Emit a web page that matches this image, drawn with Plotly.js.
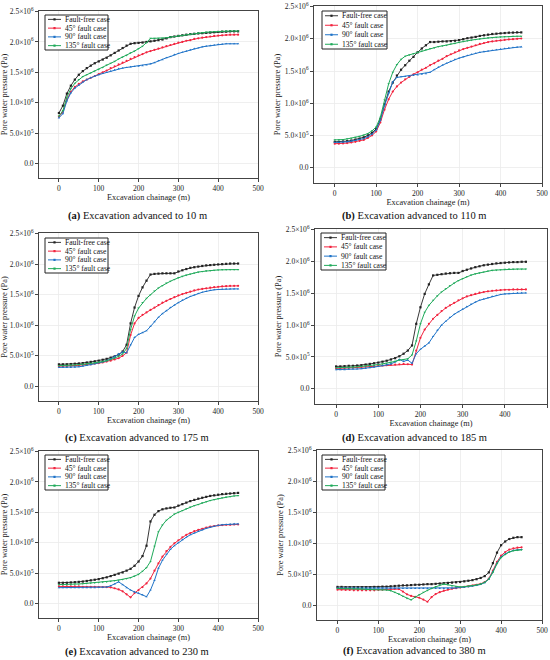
<!DOCTYPE html>
<html><head><meta charset="utf-8">
<script src="https://cdn.plot.ly/plotly-3.0.1.min.js"></script>
<style>body{margin:0;background:#fff}#chart{width:550px;height:660px}</style>
</head><body><div id="chart"></div>
<script>
// chainage (m)
const chainage = [0,10,20,30,40,50,60,70,80,90,100,110,120,130,140,150,160,170,180,190,200,210,220,230,240,250,260,270,280,290,300,310,320,330,340,350,360,370,380,390,400,410,420,430,440,450];
const seriesNames = ["Fault-free case","45° fault case","90° fault case","135° fault case"];
const captions = ["(a)","(b)","(c)","(d)","(e)","(f)"];
const captionTexts = ["Excavation advanced to 10 m","Excavation advanced to 110 m","Excavation advanced to 175 m","Excavation advanced to 185 m","Excavation advanced to 230 m","Excavation advanced to 380 m"];
// pore water pressure in units of 10^5 Pa
const a_free=[8.3,9.5,11.5,12.8,13.8,14.6,15.2,15.7,16.1,16.5,16.8,17.1,17.4,17.8,18.2,18.6,19.0,19.4,19.7,19.8,19.85,19.9,20.0,20.1,20.2,20.3,20.4,20.6,20.8,20.9,21.0,21.1,21.2,21.3,21.35,21.4,21.45,21.5,21.55,21.6,21.65,21.7,21.7,21.75,21.75,21.75];
const a_45=[7.7,8.5,10.5,11.8,12.6,13.1,13.5,13.8,14.1,14.4,14.7,15.0,15.3,15.7,16.0,16.3,16.6,16.9,17.2,17.5,17.8,18.0,18.3,18.5,18.7,18.9,19.1,19.3,19.5,19.7,19.9,20.0,20.2,20.3,20.5,20.6,20.7,20.8,20.9,21.0,21.05,21.1,21.15,21.2,21.2,21.2];
const a_90=[7.5,8.2,10.3,11.6,12.4,12.9,13.4,13.8,14.1,14.4,14.6,14.8,15.0,15.2,15.4,15.6,15.7,15.8,15.9,15.95,16.0,16.1,16.2,16.4,16.6,16.9,17.1,17.4,17.6,17.9,18.1,18.3,18.5,18.7,18.9,19.0,19.2,19.3,19.4,19.5,19.6,19.65,19.7,19.7,19.7,19.7];
const a_135=[7.8,8.7,10.9,12.3,13.2,13.8,14.3,14.6,14.9,15.2,15.5,15.8,16.2,16.5,16.8,17.2,17.5,17.8,18.2,18.5,18.9,19.3,19.9,20.6,20.6,20.6,20.6,20.7,20.8,20.9,21.0,21.1,21.2,21.3,21.4,21.5,21.55,21.6,21.65,21.7,21.7,21.75,21.8,21.8,21.8,21.8];
const b_free=[4.0,4.0,4.05,4.1,4.2,4.35,4.5,4.7,5.0,5.4,6.0,7.5,9.8,11.8,13.2,14.3,15.2,15.9,16.6,17.2,17.9,18.5,19.0,19.5,19.5,19.55,19.6,19.6,19.65,19.7,19.8,19.95,20.1,20.2,20.3,20.45,20.55,20.65,20.75,20.8,20.85,20.9,20.95,20.97,21.0,21.0];
const b_45=[3.7,3.7,3.75,3.8,3.9,4.0,4.15,4.3,4.6,5.0,5.6,7.0,9.0,10.6,11.8,12.6,13.2,13.7,14.1,14.5,14.8,15.2,15.5,15.9,16.2,16.6,16.9,17.3,17.6,17.9,18.2,18.4,18.6,18.8,19.0,19.2,19.35,19.5,19.6,19.7,19.75,19.85,19.9,19.95,20.0,20.05];
const b_90=[3.9,3.9,3.95,4.0,4.1,4.2,4.35,4.5,4.8,5.2,5.8,7.3,9.6,11.6,13.3,14.0,14.1,14.15,14.2,14.3,14.4,14.5,14.6,14.8,15.2,15.6,15.9,16.2,16.5,16.8,17.0,17.2,17.4,17.6,17.75,17.9,18.0,18.1,18.2,18.3,18.4,18.5,18.6,18.65,18.7,18.75];
const b_135=[4.3,4.3,4.35,4.45,4.55,4.7,4.85,5.05,5.3,5.7,6.3,7.8,10.5,13.0,14.8,16.0,16.8,17.3,17.5,17.7,17.9,18.1,18.3,18.5,18.6,18.8,18.9,19.0,19.2,19.3,19.45,19.6,19.7,19.8,19.9,20.0,20.1,20.15,20.2,20.25,20.3,20.35,20.35,20.4,20.4,20.4];
const c_free=[3.6,3.6,3.6,3.65,3.7,3.75,3.8,3.9,4.0,4.1,4.2,4.35,4.5,4.7,4.9,5.2,5.7,6.8,10.3,12.9,14.8,16.2,17.3,18.3,18.4,18.45,18.5,18.5,18.5,18.5,18.8,19.0,19.2,19.4,19.5,19.6,19.7,19.8,19.85,19.9,19.95,20.0,20.05,20.1,20.1,20.1];
const c_45=[3.3,3.3,3.3,3.35,3.4,3.45,3.5,3.55,3.6,3.7,3.8,3.9,4.05,4.2,4.4,4.6,5.0,5.5,8.4,10.3,11.2,11.7,12.1,12.5,12.9,13.3,13.7,14.0,14.3,14.6,14.9,15.1,15.3,15.5,15.7,15.85,15.95,16.05,16.15,16.25,16.3,16.35,16.4,16.45,16.45,16.45];
const c_90=[3.1,3.1,3.1,3.1,3.15,3.2,3.3,3.4,3.55,3.7,3.85,4.0,4.2,4.5,4.9,5.3,5.6,5.5,6.8,8.0,8.5,8.8,9.1,9.8,10.6,11.3,11.9,12.4,12.9,13.3,13.7,14.1,14.4,14.7,14.95,15.2,15.4,15.55,15.7,15.8,15.85,15.9,15.95,15.95,15.95,15.95];
const c_135=[3.4,3.4,3.4,3.45,3.5,3.55,3.6,3.65,3.75,3.85,3.95,4.05,4.2,4.4,4.6,4.9,5.3,6.2,9.3,11.5,12.8,13.7,14.4,15.0,15.6,16.1,16.5,16.9,17.2,17.5,17.8,18.0,18.2,18.4,18.55,18.7,18.8,18.9,18.95,19.0,19.05,19.1,19.1,19.1,19.1,19.1];
const d_free=[3.5,3.5,3.55,3.6,3.6,3.65,3.7,3.8,3.9,4.0,4.1,4.25,4.4,4.6,4.8,5.1,5.5,6.0,6.8,10.2,12.8,14.9,16.4,17.8,17.9,18.0,18.1,18.15,18.2,18.2,18.5,18.7,18.9,19.1,19.25,19.4,19.5,19.6,19.7,19.75,19.8,19.85,19.9,19.9,19.95,19.95];
const d_45=[3.2,3.2,3.2,3.25,3.3,3.35,3.4,3.45,3.5,3.55,3.6,3.65,3.7,3.75,3.8,3.85,3.9,3.85,3.8,6.0,8.0,9.3,10.2,11.0,11.6,12.2,12.7,13.1,13.5,13.9,14.2,14.5,14.7,14.9,15.1,15.2,15.3,15.4,15.45,15.5,15.55,15.55,15.6,15.6,15.6,15.6];
const d_90=[3.0,3.0,3.0,3.05,3.1,3.1,3.15,3.2,3.3,3.4,3.5,3.6,3.75,3.9,4.2,4.6,4.3,4.5,4.0,5.5,6.2,6.7,7.2,8.2,9.2,10.0,10.6,11.2,11.7,12.1,12.5,12.9,13.3,13.6,13.9,14.1,14.3,14.5,14.65,14.8,14.9,14.95,15.0,15.05,15.05,15.05];
const d_135=[3.3,3.3,3.3,3.35,3.4,3.45,3.5,3.55,3.6,3.7,3.8,3.9,4.0,4.15,4.3,4.5,4.6,4.7,5.3,7.5,10.2,12.0,13.1,13.9,14.6,15.2,15.7,16.2,16.6,17.0,17.3,17.6,17.85,18.05,18.2,18.35,18.5,18.6,18.65,18.7,18.75,18.8,18.8,18.8,18.8,18.8];
const e_free=[3.4,3.4,3.4,3.45,3.5,3.55,3.6,3.7,3.8,3.9,4.0,4.15,4.3,4.5,4.7,4.9,5.1,5.4,5.7,6.2,6.9,7.8,9.5,13.5,14.6,15.2,15.5,15.65,15.75,15.8,16.1,16.35,16.6,16.85,17.05,17.25,17.4,17.55,17.7,17.8,17.9,18.0,18.05,18.1,18.15,18.2];
const e_45=[2.8,2.8,2.8,2.8,2.8,2.8,2.75,2.75,2.75,2.75,2.7,2.7,2.7,2.65,2.5,2.3,2.0,1.5,1.0,1.7,2.2,2.7,3.3,4.1,5.4,6.6,7.7,8.6,9.3,9.9,10.4,10.9,11.3,11.6,11.9,12.1,12.3,12.5,12.65,12.75,12.85,12.9,12.95,12.95,13.0,13.0];
const e_90=[2.6,2.6,2.6,2.6,2.6,2.6,2.6,2.6,2.6,2.6,2.65,2.65,2.7,2.9,3.2,3.55,3.1,2.6,2.2,1.9,1.7,1.4,1.1,2.2,3.8,5.8,7.1,8.1,8.9,9.5,10.0,10.5,10.9,11.3,11.6,11.9,12.1,12.35,12.55,12.7,12.85,12.95,13.0,13.05,13.1,13.1];
const e_135=[3.1,3.1,3.1,3.15,3.2,3.2,3.25,3.3,3.35,3.4,3.45,3.5,3.55,3.65,3.75,3.85,3.95,4.1,4.25,4.5,4.8,5.3,5.9,6.9,9.4,11.8,12.9,13.7,14.2,14.7,15.0,15.3,15.6,15.85,16.1,16.3,16.55,16.75,16.95,17.1,17.25,17.4,17.5,17.6,17.7,17.75];
const f_free=[2.95,2.95,2.9,2.9,2.9,2.9,2.9,2.9,2.9,2.95,2.95,3.0,3.0,3.05,3.1,3.15,3.2,3.2,3.25,3.3,3.3,3.35,3.4,3.4,3.45,3.5,3.55,3.6,3.65,3.7,3.75,3.85,3.95,4.05,4.2,4.4,4.7,5.3,6.8,8.5,9.7,10.3,10.7,10.9,11.0,11.0];
const f_45=[2.5,2.5,2.45,2.45,2.4,2.4,2.4,2.4,2.4,2.4,2.45,2.5,2.55,2.6,2.65,2.6,2.2,1.75,1.5,1.35,1.2,0.9,0.55,1.3,1.8,2.1,2.35,2.5,2.65,2.75,2.85,2.95,3.05,3.15,3.3,3.45,3.75,4.3,5.6,7.0,8.0,8.6,9.0,9.2,9.3,9.35];
const f_90=[2.75,2.75,2.75,2.75,2.75,2.75,2.75,2.75,2.75,2.75,2.75,2.75,2.75,2.75,2.75,2.75,2.7,2.7,2.7,2.7,2.7,2.7,2.7,2.7,2.7,2.7,2.7,2.7,2.75,2.8,2.85,2.9,3.0,3.1,3.2,3.35,3.65,4.2,5.4,6.8,7.8,8.3,8.6,8.85,8.95,9.0];
const f_135=[2.7,2.7,2.65,2.65,2.6,2.6,2.6,2.55,2.55,2.55,2.5,2.5,2.45,2.35,2.1,1.8,1.45,1.1,0.85,1.3,1.7,2.1,2.4,2.7,3.0,3.2,3.4,3.3,3.1,3.0,2.95,3.0,3.05,3.15,3.25,3.4,3.7,4.2,5.3,6.7,7.7,8.2,8.6,8.8,8.9,8.95];
const yTickVals=[0,5,10,15,20,25];
const yTickText=["0.0","5.0×10<sup>5</sup>","1.0×10<sup>6</sup>","1.5×10<sup>6</sup>","2.0×10<sup>6</sup>","2.5×10<sup>6</sup>"];

const panels=[[a_free,a_45,a_90,a_135],[b_free,b_45,b_90,b_135],[c_free,c_45,c_90,c_135],[d_free,d_45,d_90,d_135],[e_free,e_45,e_90,e_135],[f_free,f_45,f_90,f_135]];
const colors=["#383838","#f2243f","#1f73c8","#1faa5a"];
const markerCol=["#222222","#f2243f","#1f73c8","#1faa5a"];
const symbols=["square","circle","triangle-up","triangle-down"];
// pixel boxes [left,right,top,bottom]
const boxes=[[39,258,11,178],[314,542,6,183],[39,258,233,401],[315,547,229,404],[39,258,451,618],[317,542,450,620]];
// legend boxes [left,top,width,height] in px
const legBox=[[45,15,63,35],[322,11,65,38],[45,238,63,35],[321,233,65,37],[45,455,63,35],[322,455,63,35]];
const capY=[216,216,438,438,652,651];
const W=550,H=660;
const serif="Liberation Serif, Times New Roman, serif";
const px=v=>v/W, py=v=>1-v/H;

const traces=[];
const layout={width:W,height:H,margin:{l:0,r:0,t:0,b:0},paper_bgcolor:"#fff",plot_bgcolor:"#fff",showlegend:false,annotations:[],shapes:[]};
panels.forEach((p,i)=>{
  const n=i===0?"":String(i+1);
  const b=boxes[i];
  p.forEach((vals,j)=>{
    traces.push({x:chainage,y:vals,xaxis:"x"+n,yaxis:"y"+n,name:seriesNames[j],mode:"lines+markers",
      line:{color:colors[j],width:1.0},marker:{color:markerCol[j],size:2.2,symbol:symbols[j]},hoverinfo:"skip"});
  });
  const ax={showline:true,mirror:true,linecolor:"#444",linewidth:1,showgrid:true,gridcolor:"#ebebeb",gridwidth:0.8,zeroline:false,
    ticks:"outside",ticklen:3,tickcolor:"#444",tickfont:{family:serif,size:7.5,color:"#222"}};
  layout["xaxis"+n]=Object.assign({},ax,{domain:[px(b[0]),px(b[1])],anchor:"y"+n,range:[-50,500],tickvals:[0,100,200,300,400,500],
    title:{text:"Excavation chainage (m)",font:{family:serif,size:8.3,color:"#222"},standoff:0}});
  layout["yaxis"+n]=Object.assign({},ax,{domain:[py(b[3]),py(b[2])],anchor:"x"+n,range:[-2.4,25.1],tickvals:yTickVals,ticktext:yTickText,
    title:{text:"Pore water pressure (Pa)",font:{family:serif,size:8.3,color:"#222"},standoff:2}});
  // legend drawn as paper shapes + text
  const L=legBox[i];
  layout.shapes.push({type:"rect",xref:"paper",yref:"paper",x0:px(L[0]),x1:px(L[0]+L[2]),y0:py(L[1]+L[3]),y1:py(L[1]),
    line:{color:"#222",width:1},fillcolor:"#fff",layer:"above"});
  const step=L[3]/4;
  seriesNames.forEach((nm,j)=>{
    const yc=L[1]+step*(j+0.5);
    layout.shapes.push({type:"line",xref:"paper",yref:"paper",x0:px(L[0]+3),x1:px(L[0]+16),y0:py(yc),y1:py(yc),
      line:{color:colors[j],width:1.0},layer:"above"});
    const mx=L[0]+9.5;
    layout.shapes.push({type:"rect",xref:"paper",yref:"paper",x0:px(mx-1.1),x1:px(mx+1.1),y0:py(yc+1.1),y1:py(yc-1.1),
      line:{width:0},fillcolor:markerCol[j],layer:"above"});
    layout.annotations.push({xref:"paper",yref:"paper",x:px(L[0]+17.5),y:py(yc),xanchor:"left",yanchor:"middle",showarrow:false,
      text:nm,font:{family:serif,size:7.6,color:"#111"}});
  });
  layout.annotations.push({xref:"paper",yref:"paper",x:px(i%2===0?137:414),y:py(capY[i]),xanchor:"center",yanchor:"middle",showarrow:false,
    text:"<b>"+captions[i]+"</b> "+captionTexts[i],font:{family:serif,size:10.5,color:"#111"}});
});
Plotly.newPlot("chart",traces,layout,{staticPlot:true});
</script></body></html>
